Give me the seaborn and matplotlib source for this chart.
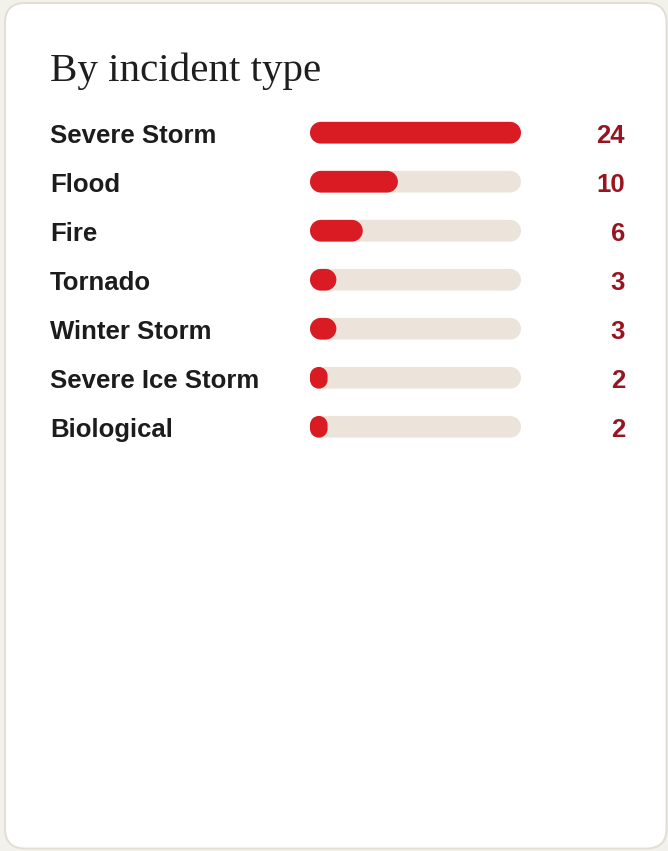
import matplotlib
matplotlib.use("Agg")
import numpy as np
import matplotlib.pyplot as plt
from matplotlib.patches import FancyBboxPatch, PathPatch
from matplotlib.path import Path
from matplotlib.transforms import IdentityTransform, blended_transform_factory
import seaborn as sns
import pandas as pd

title = "By incident type"
categories = ["Severe Storm", "Flood", "Fire", "Tornado", "Winter Storm",
              "Severe Ice Storm", "Biological"]
counts = [24, 10, 6, 3, 3, 2, 2]

RED = "#d91b23"
TRACK = "#ece4da"
VALUE_C = "#981520"
TEXT_C = "#1c1c1c"

W, H = 668, 851
DPI = 100
sns.set_theme(style="white")
plt.rcParams["font.family"] = ["Liberation Sans", "DejaVu Sans"]

fig = plt.figure(figsize=(W / DPI, H / DPI), dpi=DPI)
fig.patch.set_facecolor("#f3f1ec")


def pill_path(x, y, w, h):
    r = min(w, h) / 2.0
    verts, codes = [], []

    def arc(cx, cy, a0, a1):
        a = Path.arc(a0, a1)
        v = a.vertices * r + np.array([cx, cy])
        return v, a.codes

    pieces = [
        arc(x + w - r, y + r, 270, 360),
        arc(x + w - r, y + h - r, 0, 90),
        arc(x + r, y + h - r, 90, 180),
        arc(x + r, y + r, 180, 270),
    ]
    for k, (v, c) in enumerate(pieces):
        c = c.copy()
        if k == 0:
            c[0] = Path.MOVETO
        else:
            c[0] = Path.LINETO
        verts.extend(v.tolist())
        codes.extend(c.tolist())
    verts.append(verts[0])
    codes.append(Path.CLOSEPOLY)
    return Path(verts, codes)


# card
card = PathPatch(Path.unit_rectangle(), visible=False)
card = FancyBboxPatch((5, 2.5), 661.5, 845.5,
                      boxstyle="round,pad=0,rounding_size=20",
                      transform=IdentityTransform(), facecolor="white",
                      edgecolor="#e3ded3", linewidth=1.4, zorder=-5)
fig.add_artist(card)

df = pd.DataFrame({"category": categories, "count": counts,
                   "track": [max(counts)] * len(counts)})

top, bottom = 108.2, 451.3
ax = fig.add_axes([310 / W, 1 - bottom / H, 211 / W, (bottom - top) / H])
ax.set_zorder(1)
sns.barplot(data=df, y="category", x="track", color=TRACK, width=0.443,
            ax=ax, saturation=1, orient="h")
n_track = len(ax.patches)
sns.barplot(data=df, y="category", x="count", color=RED, width=0.443,
            ax=ax, saturation=1, orient="h")
ax.set_xlim(0, max(counts))
ax.set_ylim(len(categories) - 0.5, -0.5)
ax.axis("off")
ax.patch.set_visible(False)

# round the bars into pills
patches = list(ax.patches)
for i, p in enumerate(patches):
    x0, y0 = p.get_x(), p.get_y()
    w, h = p.get_width(), p.get_height()
    (dx0, dy0), (dx1, dy1) = ax.transData.transform([(x0, y0), (x0 + w, y0 + h)])
    lx, rx = min(dx0, dx1), max(dx0, dx1)
    ly, uy = min(dy0, dy1), max(dy0, dy1)
    fc = p.get_facecolor()
    p.remove()
    rp = PathPatch(pill_path(lx, ly, rx - lx, uy - ly),
                   transform=IdentityTransform(), facecolor=fc,
                   edgecolor="none", linewidth=0,
                   zorder=2 if i < n_track else 3)
    fig.add_artist(rp)

# labels and values
trans = blended_transform_factory(fig.transFigure, ax.transData)
off = 10.5 / 49.0
for i, (cat, v) in enumerate(zip(categories, counts)):
    fig.text(50 / W, i + off, cat, transform=trans, fontsize=18.5,
             fontweight="bold", color=TEXT_C, ha="left", va="baseline")
    fig.text(625 / W, i + off, str(v), transform=trans, fontsize=18.5,
             fontweight="bold", color=VALUE_C, ha="right", va="baseline")

fig.text(50 / W, 1 - 81 / H, title, fontsize=29.5, color="#1e1e1e",
         family=["Liberation Serif", "DejaVu Serif"], ha="left", va="baseline")

fig.savefig("out.png", dpi=DPI, facecolor=fig.get_facecolor())
